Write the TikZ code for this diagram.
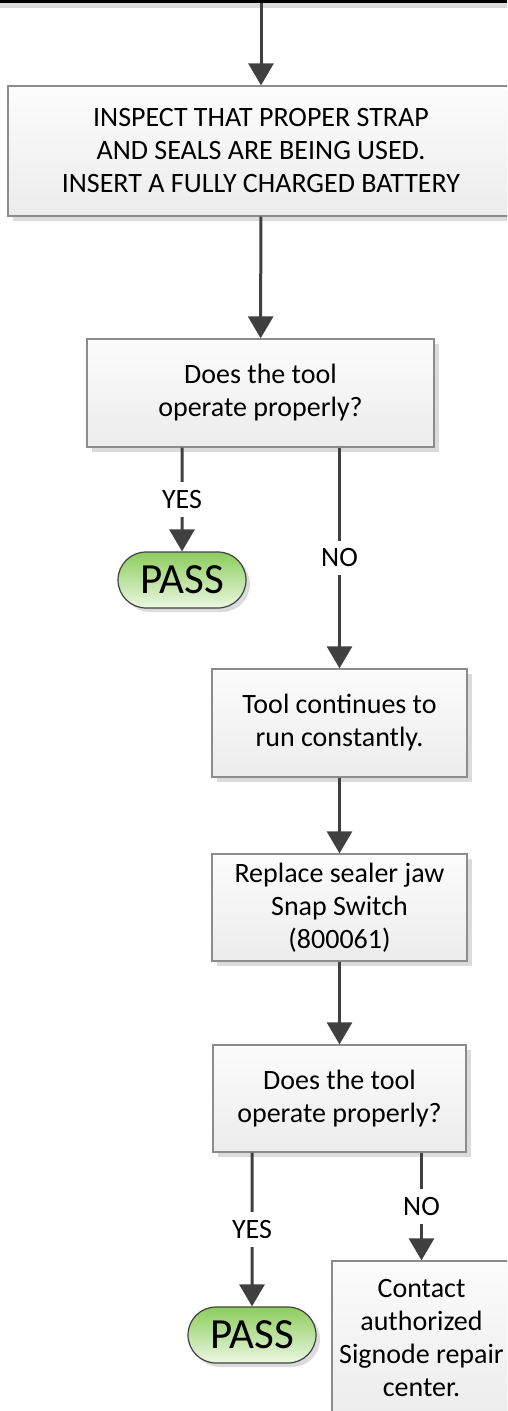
\documentclass[tikz,border=0pt]{standalone}
\usepackage{fontspec}
\setmainfont{Carlito}
\usetikzlibrary{arrows.meta,shadows,shapes.misc}

\definecolor{flowgray}{RGB}{64,64,64}
\definecolor{boxline}{RGB}{140,140,140}
\definecolor{boxtop}{RGB}{252,252,252}
\definecolor{boxbot}{RGB}{236,236,236}
\definecolor{passtop}{RGB}{140,204,92}
\definecolor{passbot}{RGB}{236,247,226}

\tikzset{
	stepbox/.style={draw=boxline, line width=1.3pt, top color=boxtop, bottom color=boxbot,
		drop shadow={shadow xshift=5pt, shadow yshift=-5pt, fill=black!14, opacity=1},
		align=center, inner sep=0pt, font=\fontsize{28}{33}\selectfont},
	passbox/.style={rounded rectangle, draw=flowgray, line width=1.2pt, top color=passtop, bottom color=passbot,
		drop shadow={shadow xshift=4pt, shadow yshift=-4pt, fill=black!14, opacity=1},
		minimum width=128pt, minimum height=56pt, inner sep=0pt, font=\fontsize{43}{46}\selectfont},
	flow/.style={draw=flowgray, line width=3pt, -{Triangle[width=25pt,length=22pt]}},
	lbl/.style={fill=white, inner xsep=2pt, inner ysep=8pt, font=\fontsize{28}{33}\selectfont}
}

\begin{document}
\begin{tikzpicture}[x=1pt, y=-1pt]
		\useasboundingbox (0, 0) rectangle (507, 1411);
		\clip (0, 0) rectangle (507, 1411);
		
		\fill[black!14] (0, 3) rectangle (507, 8);
		\fill[black] (0, -5) rectangle (507, 3);
		\coordinate (topin) at (261, 3);
		
		\node[stepbox, minimum width=506pt, minimum height=130pt] (inspect) at (261, 151) {INSPECT THAT PROPER STRAP\\AND SEALS ARE BEING USED.\\INSERT A FULLY CHARGED BATTERY};
		\node[stepbox, minimum width=347pt, minimum height=108pt] (check1) at (260.5, 393) {Does the tool\\operate properly?};
		\node[passbox] (pass1) at (182, 580) {PASS};
		\node[stepbox, minimum width=255pt, minimum height=108pt] (runs) at (339.5, 723) {Tool continues to\\run constantly.};
		\node[stepbox, minimum width=255pt, minimum height=107pt] (snap) at (339.5, 907.5) {Replace sealer jaw\\Snap Switch\\(800061)};
		\node[stepbox, minimum width=253pt, minimum height=107pt] (check2) at (339.5, 1098.5) {Does the tool\\operate properly?};
		\node[passbox] (pass2) at (252, 1335) {PASS};
		\node[stepbox, minimum width=179pt, minimum height=155pt] (contact) at (421.5, 1338.5) {Contact\\authorized\\Signode repair\\center.};
		
		\draw[flow] (topin) -- (inspect);
		\draw[flow] (inspect) -- (check1);
		\draw[flow] (check1.south -| pass1.north) -- node[lbl] {YES} (pass1);
		\draw[flow] (check1.south -| runs.north) -- node[lbl] {NO} (runs);
		\draw[flow] (runs) -- (snap);
		\draw[flow] (snap) -- (check2);
		\draw[flow] (check2.south -| pass2.north) -- node[lbl] {YES} (pass2);
		\draw[flow] (check2.south -| contact.north) -- node[lbl] {NO} (contact);
	\end{tikzpicture}
\end{document}
